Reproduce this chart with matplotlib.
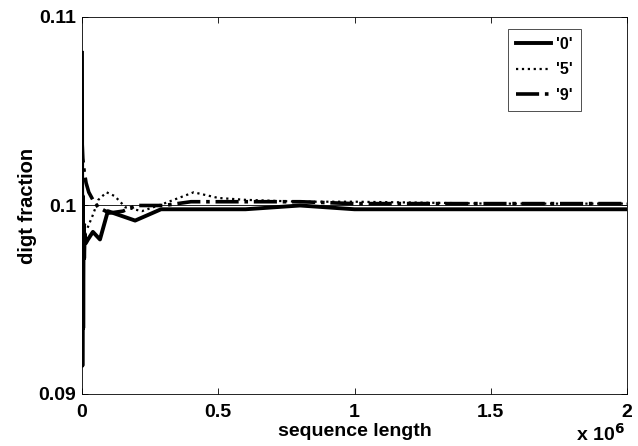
import numpy as np
import matplotlib
matplotlib.use("Agg")
import matplotlib.pyplot as plt

plt.rcParams['font.family'] = ['Liberation Sans', 'DejaVu Sans']
plt.rcParams['font.weight'] = 'bold'

# series '0'
x0 = [0, 1500, 3000, 4500, 6000, 8000, 10000, 14000, 22000, 40000, 66000, 95000,
      195000, 290000, 400000, 600000, 800000, 1000000, 1200000, 1500000, 1800000, 2000000]
y0 = [0.1081, 0.0915, 0.1005, 0.0935, 0.0990, 0.0972, 0.0985, 0.0980, 0.0982, 0.0986,
      0.0982, 0.0997, 0.0992, 0.0998, 0.0998, 0.0998, 0.1000, 0.0998, 0.0998, 0.0998,
      0.0998, 0.0998]

# series '5'
x5 = [0, 2000, 5000, 10000, 20000, 40000, 60000, 90000, 120000, 160000, 220000,
      300000, 410000, 500000, 600000, 800000, 1000000, 1500000, 2000000]
y5 = [0.0995, 0.1008, 0.0985, 0.0990, 0.0988, 0.0995, 0.1003, 0.1007, 0.1005, 0.0999,
      0.0997, 0.1001, 0.1007, 0.1004, 0.1003, 0.1002, 0.1002, 0.1001, 0.1001]

# series '9'
x9 = [0, 3000, 8000, 15000, 25000, 40000, 60000, 100000, 150000, 200000, 300000,
      400000, 500000, 800000, 1000000, 1500000, 2000000]
y9 = [0.1035, 0.1025, 0.1018, 0.1012, 0.1007, 0.1003, 0.0999, 0.0996, 0.0997, 0.1000,
      0.1000, 0.1002, 0.1002, 0.1002, 0.1001, 0.1001, 0.1001]

xticks = [0, 500000, 1000000, 1500000, 2000000]
xtick_labels = ['0', '0.5', '1', '1.5', '2']
yticks = [0.09, 0.1, 0.11]
ytick_labels = ['0.09', '0.1', '0.11']

fig = plt.figure(figsize=(6.38, 4.46), dpi=100)
ax = fig.add_axes([0.1285, 0.1166, 0.8543, 0.8453])

ax.axhline(0.1, color='black', linewidth=0.6)
ax.plot(x0, y0, color='black', linestyle='-', linewidth=2.8, label="'0'")
ax.plot(x5, y5, color='black', linestyle=':', linewidth=1.6, label="'5'")
ax.plot(x9, y9, color='black', linestyle='-.', linewidth=2.6, label="'9'")

ax.set_xlim(0, 2000000)
ax.set_ylim(0.09, 0.11)
ax.set_xticks(xticks)
ax.set_xticklabels(xtick_labels)
ax.set_yticks(yticks)
ax.set_yticklabels(ytick_labels)
ax.tick_params(direction='in', top=True, right=True, labelsize=14, length=4, width=0.6)
ax.tick_params(axis='y', pad=4)
ax.tick_params(axis='x', pad=7)
for s in ax.spines.values():
    s.set_linewidth(0.6)

ax.set_xlabel('sequence length', fontsize=14, fontweight='bold', labelpad=2)
ax.set_ylabel('digt fraction', fontsize=14.5, fontweight='bold', labelpad=1)
fig.text(0.98, 0.003, r'x 10$^6$', fontsize=14, fontweight='bold', ha='right', va='bottom')

leg = ax.legend(loc='upper right', bbox_to_anchor=(0.9156, 0.968), borderaxespad=0,
                fontsize=11.5, frameon=True, fancybox=False, edgecolor='black',
                handlelength=2.2, borderpad=0.5, labelspacing=0.65, handletextpad=0.3)
leg.get_frame().set_linewidth(0.6)

fig.savefig('out.png', dpi=100)
